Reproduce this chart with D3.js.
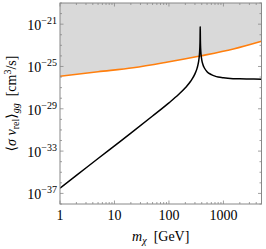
<!DOCTYPE html>
<html><head><meta charset="utf-8">
<script src="https://cdn.jsdelivr.net/npm/d3@7"></script>
<style>body{margin:0;background:#fff}svg{display:block}text{font-family:"Liberation Serif","DejaVu Serif",serif;fill:#000}</style>
</head><body><svg id="c" width="266" height="249"></svg>
<script>
// black curve: <σ v>_gg vs m_χ (GeV), values as log10
const massBlack = [1,2,5,10,20,50,100,150,200,250,300,330,350,360,365,370,372,374,375,376,378,380,385,390,400,420,450,500,600,700,800,1000,1500,2000,3000,5000];
const logSigmaBlack = [-36.5,-35.3,-33.7,-32.5,-31.3,-29.68,-28.44,-27.65,-27.01,-26.4,-25.7,-25.13,-24.54,-24.06,-23.69,-23.07,-22.62,-21.66,-21.24,-21.65,-22.6,-23.04,-23.62,-23.96,-24.37,-24.82,-25.17,-25.49,-25.77,-25.91,-25.99,-26.07,-26.15,-26.17,-26.19,-26.2];
// orange bound
const massOrange = [1,5,22,90,372,1525,5000];
const logSigmaOrange = [-25.93,-25.5,-25.12,-24.6,-24.01,-23.35,-22.62];
// ticks
const xTicks = [1,10,100,1000];
const xTickLabels = ["1","10","100","1000"];
const yTickExp = [-37,-33,-29,-25,-21];

const svg = d3.select("#c");
const L = 60, R = 261.5, T = 3, B = 204;
const x = d3.scaleLog().domain([1,5000]).range([L,R]);
const y = d3.scaleLinear().domain([-38,-19]).range([B,T]);

const clip = svg.append("clipPath").attr("id","cp").append("rect").attr("x",L).attr("y",T).attr("width",R-L).attr("height",B-T);
const g = svg.append("g").attr("clip-path","url(#cp)");

const oPts = massOrange.map((m,i)=>[m,logSigmaOrange[i]]);
const area = d3.area().x(d=>x(d[0])).y0(y(-19)).y1(d=>y(d[1])).curve(d3.curveMonotoneX);
g.append("path").datum(oPts).attr("d",area).attr("fill","#d9d9d9");
const line = d3.line().x(d=>x(d[0])).y(d=>y(d[1])).curve(d3.curveMonotoneX);
g.append("path").datum(oPts).attr("d",line).attr("fill","none").attr("stroke","#ff7f0e").attr("stroke-width",1.6);
const bPts = massBlack.map((m,i)=>[m,logSigmaBlack[i]]);
g.append("path").datum(bPts).attr("d",line).attr("fill","none").attr("stroke","#000").attr("stroke-width",1.5);

// ticks (inward)
const tc = "#888";
const majorX = xTicks;
const minorX = [];
for (let d=1; d<=1000; d*=10) for (let k=2;k<=9;k++){ if(d*k<=5000) minorX.push(d*k);}
const tg = svg.append("g").attr("stroke",tc).attr("stroke-width",0.8);
majorX.forEach(v=>{tg.append("line").attr("x1",x(v)).attr("x2",x(v)).attr("y1",B).attr("y2",B-3.5);tg.append("line").attr("x1",x(v)).attr("x2",x(v)).attr("y1",T).attr("y2",T+3.5);});
minorX.forEach(v=>{tg.append("line").attr("x1",x(v)).attr("x2",x(v)).attr("y1",B).attr("y2",B-2);tg.append("line").attr("x1",x(v)).attr("x2",x(v)).attr("y1",T).attr("y2",T+2);});
for (let e=-38;e<=-19;e++){ const len = yTickExp.includes(e)?3.5:2;
  tg.append("line").attr("x1",L).attr("x2",L+len).attr("y1",y(e)).attr("y2",y(e));
  tg.append("line").attr("x1",R).attr("x2",R-len).attr("y1",y(e)).attr("y2",y(e)); }

svg.append("rect").attr("x",L).attr("y",T).attr("width",R-L).attr("height",B-T).attr("fill","none").attr("stroke","#888").attr("stroke-width",1);

// x tick labels
xTicks.forEach((v,i)=>{svg.append("text").attr("x",x(v)).attr("y",B+16).attr("text-anchor","middle").attr("font-size",14).text(xTickLabels[i]);});
// y tick labels
yTickExp.forEach(e=>{
  const t = svg.append("text").attr("x",57).attr("y",y(e)+6).attr("text-anchor","end").attr("font-size",14);
  t.append("tspan").text("10");
  t.append("tspan").attr("dy",-6).attr("font-size",10).text("\u2212"+Math.abs(e));
});
// x label
const xl = svg.append("text").attr("x",(L+R)/2).attr("y",241).attr("text-anchor","middle").attr("font-size",14);
xl.append("tspan").attr("font-style","italic").text("m");
xl.append("tspan").attr("dy",3).attr("font-size",10).attr("font-style","italic").text("\u03c7");
xl.append("tspan").attr("dy",-3).text("\u2002[GeV]");
// y label
const yl = svg.append("text").attr("transform",`translate(16,${(T+B)/2}) rotate(-90)`).attr("text-anchor","middle").attr("font-size",14);
yl.append("tspan").text("\u27e8");
yl.append("tspan").attr("font-style","italic").text("\u03c3 v");
yl.append("tspan").attr("dy",3).attr("font-size",10).text("rel");
yl.append("tspan").attr("dy",-3).text("\u27e9");
yl.append("tspan").attr("dy",3).attr("font-size",10).attr("font-style","italic").text("gg");
yl.append("tspan").attr("dy",-3).text("\u2002[cm");
yl.append("tspan").attr("dy",-5).attr("font-size",10).text("3");
yl.append("tspan").attr("dy",5).text("/s]");
</script></body></html>
